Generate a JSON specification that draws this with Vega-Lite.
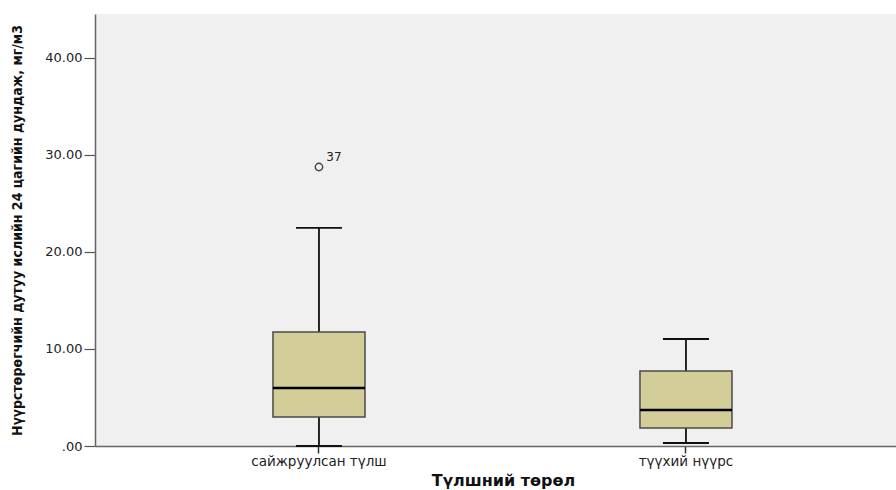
{
  "$schema": "https://vega.github.io/schema/vega-lite/v6.json",
  "autosize": {"type": "none"},
  "width": 801,
  "height": 432,
  "padding": {"left": 95, "top": 14, "right": 0, "bottom": 44},
  "background": "#ffffff",
  "config": {"view": {"stroke": null, "fill": "#f0f0f0"}},
  "datasets": {
    "boxes": [
      {"fuel": "сайжруулсан түлш", "lo": 0.0, "q1": 2.99, "med": 5.97, "q3": 11.74, "hi": 22.46},
      {"fuel": "түүхий нүүрс", "lo": 0.31, "q1": 1.85, "med": 3.71, "q3": 7.73, "hi": 11.02}
    ],
    "outliers": [
      {"fuel": "сайжруулсан түлш", "value": 28.74, "case": "37"}
    ]
  },
  "encoding": {
    "x": {
      "field": "fuel",
      "type": "nominal",
      "scale": {"domain": ["сайжруулсан түлш", "түүхий нүүрс"], "paddingInner": 0, "paddingOuter": 0.0913, "align": 0.604},
      "axis": {
        "title": "Түлшний төрөл",
        "titleFont": "DejaVu Sans",
        "titleFontSize": 16,
        "titleFontWeight": "bold",
        "titleColor": "#111",
        "titlePadding": 5,
        "titleX": 408,
        "labelAngle": 0,
        "labelFont": "DejaVu Sans",
        "labelFontSize": 13.5,
        "labelColor": "#222",
        "labelPadding": 1,
        "tickSize": 7,
        "tickColor": "#333",
        "tickWidth": 1.5,
        "domainColor": "#666",
        "domainWidth": 1.5
      }
    }
  },
  "layer": [
    {
      "mark": {"type": "rule", "color": "#777", "strokeWidth": 1.5},
      "encoding": {"y": {"datum": 44.5, "type": "quantitative"}}
    },
    {
      "data": {"name": "boxes"},
      "mark": {"type": "rule", "color": "#111", "strokeWidth": 1.8},
      "encoding": {
        "y": {
          "field": "lo",
          "type": "quantitative",
          "scale": {"domain": [0, 44.5], "nice": false, "zero": false},
          "axis": {
            "title": "Нүүрстөрөгчийн дутуу ислийн 24 цагийн дундаж, мг/м3",
            "titleFont": "DejaVu Sans Condensed",
            "titleFontWeight": "bold",
            "titleFontSize": 14,
            "titleColor": "#111",
            "titlePadding": 20,
            "values": [0, 10, 20, 30, 40],
            "labelExpr": "datum.value == 0 ? '.00' : format(datum.value, '.2f')",
            "labelFont": "DejaVu Sans",
            "labelFontSize": 13,
            "labelColor": "#222",
            "labelPadding": 2,
            "tickSize": 11,
            "tickColor": "#555",
            "tickWidth": 1.2,
            "domainColor": "#666",
            "domainWidth": 1.5,
            "grid": false
          }
        },
        "y2": {"field": "hi"}
      }
    },
    {
      "data": {"name": "boxes"},
      "mark": {"type": "tick", "color": "#111", "opacity": 1, "size": 46, "thickness": 1.8},
      "encoding": {"y": {"field": "hi", "type": "quantitative"}}
    },
    {
      "data": {"name": "boxes"},
      "mark": {"type": "tick", "color": "#111", "opacity": 1, "size": 46, "thickness": 1.8},
      "encoding": {"y": {"field": "lo", "type": "quantitative"}}
    },
    {
      "data": {"name": "boxes"},
      "mark": {"type": "bar", "size": 92, "fill": "#d3cd98", "stroke": "#4a4a4a", "strokeWidth": 1.5},
      "encoding": {
        "y": {"field": "q1", "type": "quantitative"},
        "y2": {"field": "q3"}
      }
    },
    {
      "data": {"name": "boxes"},
      "mark": {"type": "tick", "color": "#000", "opacity": 1, "size": 92, "thickness": 2.6},
      "encoding": {"y": {"field": "med", "type": "quantitative"}}
    },
    {
      "data": {"name": "outliers"},
      "mark": {"type": "point", "shape": "circle", "filled": false, "opacity": 1, "size": 55, "stroke": "#444", "strokeWidth": 1.4},
      "encoding": {"y": {"field": "value", "type": "quantitative"}}
    },
    {
      "data": {"name": "outliers"},
      "mark": {"type": "text", "font": "DejaVu Sans", "fontSize": 12, "color": "#222", "dx": 15, "dy": -10},
      "encoding": {
        "y": {"field": "value", "type": "quantitative"},
        "text": {"field": "case"}
      }
    }
  ]
}
